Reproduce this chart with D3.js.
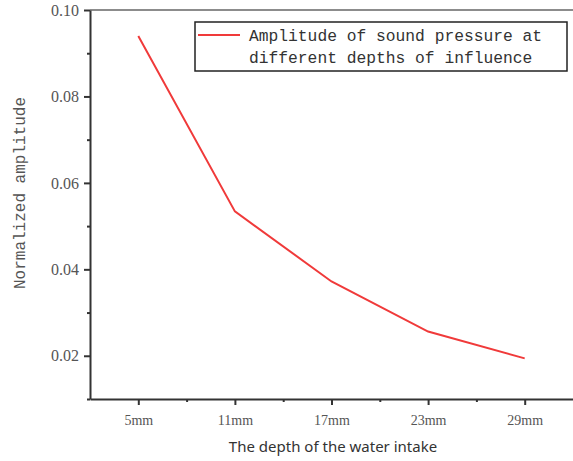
<!DOCTYPE html>
<html>
<head>
<meta charset="utf-8">
<script src="https://cdn.jsdelivr.net/npm/d3@7"></script>
<style>
  body { margin: 0; background: #fff; }
  svg { display: block; }
</style>
</head>
<body>
<svg width="573" height="461"></svg>
<script>
  // data
  const depths = [5, 11, 17, 23, 29];
  const depthLabels = ['5mm', '11mm', '17mm', '23mm', '29mm'];
  const amplitudes = [0.094, 0.0534, 0.0372, 0.0256, 0.0194];
  const yTicks = [0.02, 0.04, 0.06, 0.08, 0.10];
  const yMinor = [0.01, 0.03, 0.05, 0.07, 0.09];
  const xMinor = [8, 14, 20, 26];

  const svg = d3.select('svg');
  const axisColor = '#333';

  const x = d3.scaleLinear().domain([2, 32]).range([90, 573]);
  const y = d3.scaleLinear().domain([0.01, 0.10]).range([399, 10]);

  // top frame line
  svg.append('line')
    .attr('x1', 90).attr('x2', 573).attr('y1', y(0.10)).attr('y2', y(0.10))
    .attr('stroke', '#666').attr('stroke-width', 1.5);

  // minor ticks
  svg.append('g')
    .attr('transform', `translate(0, ${y(0.01)})`)
    .call(d3.axisBottom(x).tickValues(xMinor).tickSize(3).tickFormat(''))
    .call(g => g.select('.domain').remove())
    .selectAll('line').attr('stroke', axisColor).attr('stroke-width', 2);
  svg.append('g')
    .attr('transform', `translate(${x(2)}, 0)`)
    .call(d3.axisLeft(y).tickValues(yMinor).tickSize(3).tickFormat(''))
    .call(g => g.select('.domain').remove())
    .selectAll('line').attr('stroke', axisColor).attr('stroke-width', 2);

  // x axis
  const xAxis = svg.append('g')
    .attr('transform', `translate(0, ${y(0.01)})`)
    .call(d3.axisBottom(x).tickValues(depths).tickSize(6).tickSizeOuter(0)
      .tickFormat((d, i) => depthLabels[i]));
  xAxis.select('.domain').attr('stroke', axisColor).attr('stroke-width', 2);
  xAxis.selectAll('.tick line').attr('stroke', axisColor).attr('stroke-width', 2);
  xAxis.selectAll('.tick text')
    .attr('dy', 0).attr('y', 26)
    .attr('font-family', 'Liberation Serif').attr('font-size', 14)
    .attr('fill', '#555');

  // y axis
  const yAxis = svg.append('g')
    .attr('transform', `translate(${x(2)}, 0)`)
    .call(d3.axisLeft(y).tickValues(yTicks).tickSize(6).tickSizeOuter(0)
      .tickFormat(d3.format('.2f')));
  yAxis.select('.domain').attr('stroke', axisColor).attr('stroke-width', 2);
  yAxis.selectAll('.tick line').attr('stroke', axisColor).attr('stroke-width', 2);
  yAxis.selectAll('.tick text')
    .attr('x', -11)
    .attr('font-family', 'Liberation Serif').attr('font-size', 16)
    .attr('fill', '#555');

  // data line
  const line = d3.line()
    .x((d, i) => x(depths[i]))
    .y(d => y(d));
  svg.append('path')
    .datum(amplitudes)
    .attr('d', line)
    .attr('fill', 'none')
    .attr('stroke', '#f03a3a')
    .attr('stroke-width', 2);

  // axis titles
  svg.append('text')
    .text('The depth of the water intake')
    .attr('x', 333).attr('y', 452)
    .attr('text-anchor', 'middle')
    .attr('font-family', 'Noto Sans').attr('font-size', 15)
    .attr('fill', '#333');

  svg.append('text')
    .text('Normalized amplitude')
    .attr('transform', 'translate(25, 193) rotate(-90)')
    .attr('text-anchor', 'middle')
    .attr('font-family', 'Liberation Mono').attr('font-size', 16)
    .attr('fill', '#555');

  // legend
  const legend = svg.append('g');
  legend.append('rect')
    .attr('x', 195).attr('y', 22).attr('width', 372).attr('height', 49)
    .attr('fill', '#fff').attr('stroke', '#222').attr('stroke-width', 1.5);
  legend.append('line')
    .attr('x1', 198).attr('x2', 240).attr('y1', 35).attr('y2', 35)
    .attr('stroke', '#f03a3a').attr('stroke-width', 2);
  legend.append('text')
    .attr('font-family', 'Liberation Mono').attr('font-size', 16.3)
    .attr('fill', '#333')
    .selectAll('tspan')
    .data(['Amplitude of sound pressure at', 'different depths of influence'])
    .join('tspan')
    .attr('x', 249)
    .attr('y', (d, i) => 41 + i * 22)
    .text(d => d);
</script>
</body>
</html>
